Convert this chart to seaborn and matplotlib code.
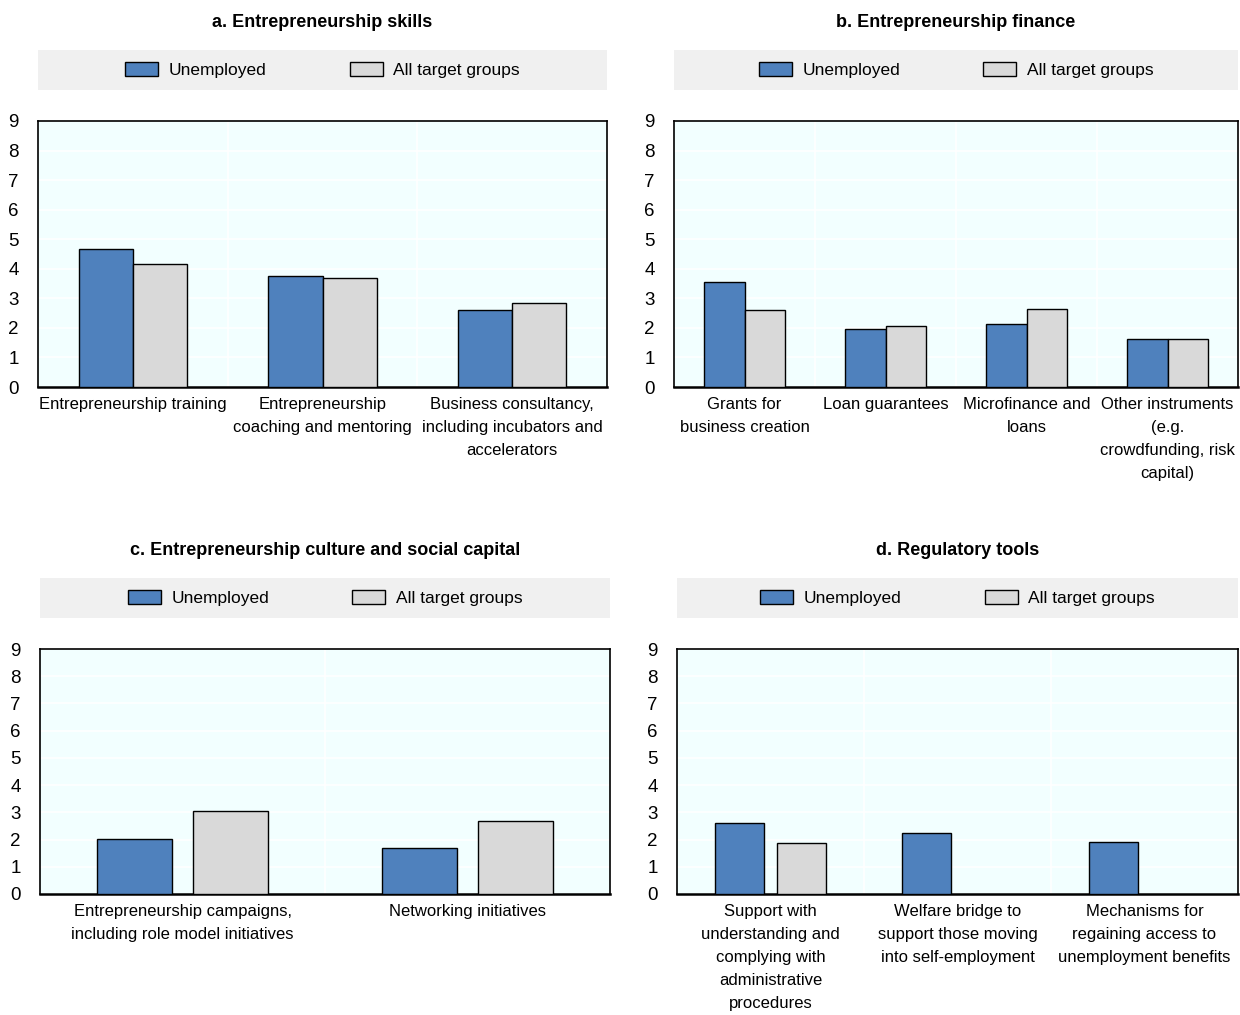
import numpy as np
import pandas as pd
import matplotlib
matplotlib.use('Agg')
import matplotlib.pyplot as plt
from matplotlib.patches import Patch, Rectangle
import seaborn as sns

# Data
skills_cats = ['Entrepreneurship training',
               'Entrepreneurship\ncoaching and mentoring',
               'Business consultancy,\nincluding incubators and\naccelerators']
skills_unemp = [4.68, 3.75, 2.59]
skills_all = [4.17, 3.68, 2.84]

finance_cats = ['Grants for\nbusiness creation', 'Loan guarantees',
                'Microfinance and\nloans',
                'Other instruments\n(e.g.\ncrowdfunding, risk\ncapital)']
finance_unemp = [3.54, 1.95, 2.14, 1.63]
finance_all = [2.62, 2.07, 2.64, 1.61]

culture_cats = ['Entrepreneurship campaigns,\nincluding role model initiatives',
                'Networking initiatives']
culture_unemp = [2.01, 1.68]
culture_all = [3.06, 2.68]

reg_cats = ['Support with\nunderstanding and\ncomplying with\nadministrative\nprocedures',
            'Welfare bridge to\nsupport those moving\ninto self-employment',
            'Mechanisms for\nregaining access to\nunemployment benefits']
reg_unemp = [2.61, 2.24, 1.91]
reg_all = [1.86, np.nan, np.nan]

groups = ['Unemployed', 'All target groups']
colors = ['#4F81BD', '#D9D9D9']

sns.set_style('white')
plt.rcParams['font.family'] = ['Liberation Sans', 'DejaVu Sans']
plt.rcParams['text.color'] = 'black'
plt.rcParams['xtick.color'] = 'black'
plt.rcParams['ytick.color'] = 'black'

fig = plt.figure(figsize=(12.4, 10.15), dpi=100)

W, H = 1240, 1015
def box(l, r, t, b):
    return [l / W, 1 - b / H, (r - l) / W, (b - t) / H]

panels = [
    ('a. Entrepreneurship skills', skills_cats, skills_unemp, skills_all, box(38, 607, 121, 387), 0.57, 0.0),
    ('b. Entrepreneurship finance', finance_cats, finance_unemp, finance_all, box(674, 1238, 121, 387), 0.58, 0.0),
    ('c. Entrepreneurship culture and social capital', culture_cats, culture_unemp, culture_all, box(40, 610, 649, 894), 0.67, 0.21),
    ('d. Regulatory tools', reg_cats, reg_unemp, reg_all, box(677, 1238, 649, 894), 0.66, 0.21),
]

for title, cats, unemp, allg, rect, width, gap in panels:
    ax = fig.add_axes(rect)
    df = pd.DataFrame({
        'category': cats * 2,
        'group': [groups[0]] * len(cats) + [groups[1]] * len(cats),
        'value': list(unemp) + list(allg),
    })
    df['category'] = pd.Categorical(df['category'], categories=cats)
    df = df.dropna(subset=['value'])
    sns.barplot(data=df, x='category', y='value', hue='group', hue_order=groups,
                order=cats, palette=colors, saturation=1, width=width, gap=gap,
                edgecolor='black', linewidth=1, errorbar=None, legend=False,
                ax=ax, zorder=3)
    ax.set_facecolor('#F2FFFF')
    ax.set_ylim(0, 9)
    ax.set_xlim(-0.5, len(cats) - 0.5)
    ax.set_yticks(range(10))
    ax.set_xlabel('')
    ax.set_ylabel('')
    ax.set_xticks(np.arange(len(cats) - 1) + 0.5, minor=True)
    ax.grid(True, axis='y', color='white', linewidth=1.2, zorder=0)
    ax.grid(True, axis='x', which='minor', color='white', linewidth=1.2, zorder=0)
    ax.set_axisbelow(True)
    ax.tick_params(axis='y', direction='in', length=3, width=1, labelsize=13.5, pad=14)
    ax.tick_params(axis='x', which='major', length=0, labelsize=12, pad=7)
    ax.tick_params(axis='x', which='minor', direction='in', length=5, width=1.5)
    for lab in ax.get_xticklabels():
        lab.set_linespacing(1.68)
    for s in ax.spines.values():
        s.set_visible(True)
        s.set_color('black')
        s.set_linewidth(1.2)
    ax.spines['bottom'].set_linewidth(1.8)

    # grey legend band above the plot
    ph = ax.get_position().height * H
    y0 = 1 + 31 / ph
    hgt = 40 / ph
    ax.add_patch(Rectangle((0, y0), 1, hgt, transform=ax.transAxes,
                           facecolor='#F0F0F0', edgecolor='none', clip_on=False))
    handles = [Patch(facecolor=c, edgecolor='black', linewidth=1) for c in colors]
    ax.legend(handles, groups, loc='center', bbox_to_anchor=(0.5, y0 + hgt / 2),
              ncol=2, frameon=False, fontsize=12.5, handlelength=1.9,
              handleheight=0.85, columnspacing=4.8, handletextpad=0.6)
    ax.set_title(title, fontsize=13, fontweight='bold', pad=68)

fig.savefig('out.png', dpi=100)
